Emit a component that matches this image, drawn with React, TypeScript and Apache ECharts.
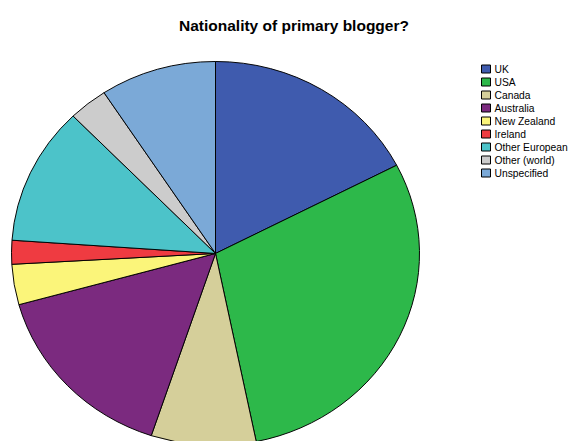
import React, { useEffect, useRef } from "react";
import * as echarts from "echarts";

const categories = ["UK", "USA", "Canada", "Australia", "New Zealand", "Ireland", "Other European", "Other (world)", "Unspecified"];
const values = [17.4, 29.4, 8.3, 15.6, 3.4, 2.0, 11.6, 3.1, 9.2];
const colors = ["#3F5BAE", "#2DB84A", "#D5CF9A", "#7B2A7F", "#FBF57A", "#EF3B41", "#4CC3C9", "#CCCCCC", "#7BA9D7"];

export default function App() {
  const ref = useRef<HTMLDivElement>(null);
  useEffect(() => {
    const chart = echarts.init(ref.current!, null, { renderer: "svg" });
    const total = values.reduce((a, b) => a + b, 0);
    const cx = 215.5, cy = 253.5, r = 204, sy = 192 / 204;
    let cum = 0;
    const series = categories.map((name, i) => {
      const start = cum;
      cum += values[i];
      return {
        type: "custom",
        name,
        coordinateSystem: "none",
        silent: true,
        itemStyle: { color: colors[i] },
        data: [[start, values[i]]],
        renderItem: (params: any, api: any) => {
          const s = api.value(0), v = api.value(1);
          return {
            type: "sector",
            shape: {
              cx, cy, r0: 0, r,
              startAngle: -Math.PI / 2 + (s / total) * Math.PI * 2,
              endAngle: -Math.PI / 2 + ((s + v) / total) * Math.PI * 2,
              clockwise: true,
            },
            originX: cx,
            originY: cy,
            scaleY: sy,
            style: { fill: api.visual("color"), stroke: "#000", lineWidth: 1, strokeNoScale: true },
          };
        },
      };
    });
    chart.setOption({
      animation: false,
      backgroundColor: "#fff",
      title: {
        text: "Nationality of primary blogger?",
        left: 179,
        top: 17,
        padding: 0,
        textStyle: { fontSize: 15.5, fontWeight: "bold", fontFamily: "Liberation Sans", color: "#000" },
      },
      legend: {
        orient: "vertical",
        left: 481,
        top: 62.5,
        padding: 0,
        itemWidth: 9,
        itemHeight: 8,
        itemGap: 0,
        icon: "rect",
        selectedMode: false,
        data: categories,
        itemStyle: { borderColor: "#000", borderWidth: 1 },
        textStyle: { fontSize: 10.3, fontFamily: "Liberation Sans", color: "#000", lineHeight: 13, padding: [0, 0, 0, -1] },
      },
      series,
    });
    return () => chart.dispose();
  }, []);
  return <div ref={ref} style={{ position: "absolute", left: 0, top: 0, width: 571, height: 441 }} />;
}
